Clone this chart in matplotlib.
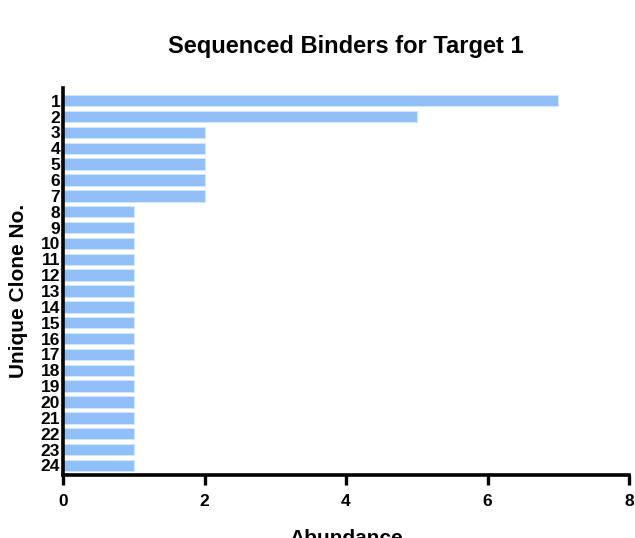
import matplotlib
matplotlib.use("Agg")
import matplotlib.pyplot as plt

clones = [str(i) for i in range(1, 25)]
abundance = [7, 5, 2, 2, 2, 2, 2] + [1] * 17
x_ticks = [0, 2, 4, 6, 8]

plt.rcParams['font.family'] = ['Liberation Sans', 'DejaVu Sans']
plt.rcParams['font.weight'] = 'bold'

fig = plt.figure(figsize=(6.35, 5.38), dpi=100)
ax = fig.add_axes([63/635, 1-475/538, (629-63)/635, (475-88)/538])

ypos = list(range(len(clones)))
ax.barh(ypos, abundance, height=0.72, color='#91bff7', edgecolor='#d6e7fc', linewidth=0.6)
ax.set_ylim(len(clones) - 1 + 0.6, -0.8)
ax.set_xlim(0, 8)
ax.set_yticks(ypos)
ax.set_yticklabels(clones, fontsize=12.5, fontweight='bold')
ax.set_xticks(x_ticks)
ax.set_xticklabels([str(t) for t in x_ticks], fontsize=12.5, fontweight='bold')
ax.tick_params(axis='y', length=0, pad=2)
ax.tick_params(axis='x', length=7, width=2.4, pad=7)
for s in ['top', 'right']:
    ax.spines[s].set_visible(False)
for s in ['left', 'bottom']:
    ax.spines[s].set_linewidth(2.6)

fig.text(346/635, 1-47/538, 'Sequenced Binders for Target 1', ha='center', va='center',
         fontsize=17, fontweight='bold')
fig.text(19/635, 1-291/538, 'Unique Clone No.', ha='center', va='center', rotation=90,
         fontsize=15, fontweight='bold')
fig.text(346/635, 1-529/538, 'Abundance', ha='center', va='top', fontsize=15, fontweight='bold')

fig.savefig('out.png', dpi=100)
